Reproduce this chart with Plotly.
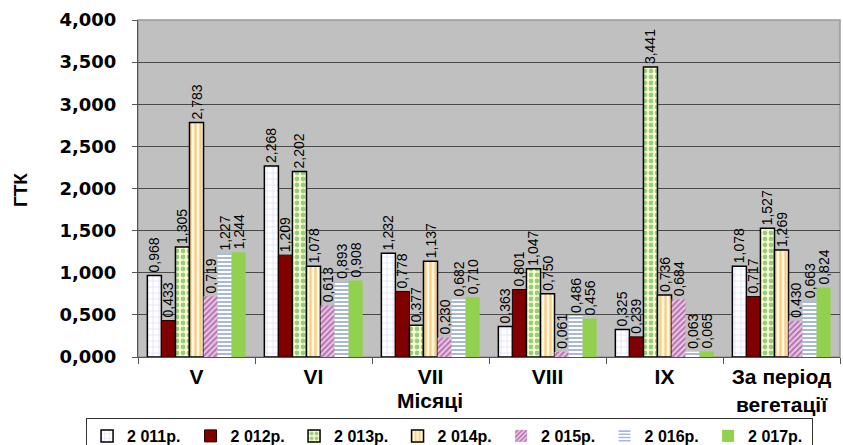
import plotly.graph_objects as go

categories = ["V", "VI", "VII", "VIII", "IX", "За період<br>вегетації"]
series_names = ["2 011р.", "2 012р.", "2 013р.", "2 014р.", "2 015р.", "2 016р.", "2 017р."]
v2011 = [0.968, 2.268, 1.232, 0.363, 0.325, 1.078]
v2012 = [0.433, 1.209, 0.778, 0.801, 0.239, 0.717]
v2013 = [1.305, 2.202, 0.377, 1.047, 3.441, 1.527]
v2014 = [2.783, 1.078, 1.137, 0.750, 0.736, 1.269]
v2015 = [0.719, 0.613, 0.230, 0.061, 0.684, 0.430]
v2016 = [1.227, 0.893, 0.682, 0.486, 0.063, 0.663]
v2017 = [1.244, 0.908, 0.710, 0.456, 0.065, 0.824]
y_ticks = [0, 0.5, 1, 1.5, 2, 2.5, 3, 3.5, 4]

all_values = [v2011, v2012, v2013, v2014, v2015, v2016, v2017]

styles = [
    dict(color="white", pattern=dict(shape="+", fgcolor="#9a9aff", bgcolor="white", size=6, solidity=0.15), line=dict(color="black", width=1.5)),
    dict(color="#800000", line=dict(color="#200000", width=1)),
    dict(color="#ffffcc", pattern=dict(shape=".", fgcolor="#2e9a3e", bgcolor="#ffffcc", size=6, solidity=0.5), line=dict(color="black", width=1.5)),
    dict(color="#ffffcc", pattern=dict(shape="|", fgcolor="#f5a020", bgcolor="#fff8e0", size=5, solidity=0.45), line=dict(color="black", width=1.5)),
    dict(color="white", pattern=dict(shape="/", fgcolor="#7a1f6a", bgcolor="#ecc8ec", size=4, solidity=0.5), line=dict(width=0)),
    dict(color="white", pattern=dict(shape="-", fgcolor="#4f74b8", bgcolor="white", size=4, solidity=0.5), line=dict(width=0)),
    dict(color="#92d050", line=dict(width=0)),
]

def fmt(v):
    return f"{v:.3f}".replace(".", ",")

fig = go.Figure()
for name, vals, st in zip(series_names, all_values, styles):
    fig.add_trace(go.Bar(
        x=categories, y=vals, name=name,
        marker=st,
        text=[fmt(v) for v in vals],
        textposition="outside",
        textangle=-90,
        constraintext="none",
        cliponaxis=False,
        textfont=dict(family="Liberation Sans, Arial", size=14, color="black"),
    ))

fig.update_layout(
    width=843, height=445,
    margin=dict(l=138, r=3, t=20, b=88, autoexpand=False),
    paper_bgcolor="white",
    plot_bgcolor="#c0c0c0",
    barmode="group",
    bargap=0.16,
    bargroupgap=0,
    separators=", ",
    font=dict(family="Liberation Sans, Arial", color="black"),
    showlegend=True,
    legend=dict(
        orientation="h", x=-0.074, xanchor="left", y=-0.181, yanchor="top",
        bordercolor="#333333", borderwidth=1, bgcolor="rgba(255,255,255,0)",
        font=dict(family="Liberation Sans, Arial", size=16, color="black", weight="bold"),
        itemwidth=30, tracegroupgap=0, entrywidth=58.5,
    ),
)

fig.update_yaxes(
    range=[0, 4], tickvals=y_ticks, tickformat=".3f",
    showgrid=True, gridcolor="#4a4a4a", gridwidth=1,
    showline=True, linecolor="#555555", linewidth=1,
    ticks="outside", ticklen=5, tickcolor="#555555", ticklabelstandoff=12,
    tickfont=dict(family="DejaVu Sans", size=18, color="black", weight="bold"),
    zeroline=False, automargin=False,
)
fig.update_xaxes(
    showline=True, linecolor="#555555", linewidth=1,
    ticks="outside", ticklen=6, tickcolor="#555555", tickson="boundaries",
    ticklabelstandoff=1,
    tickfont=dict(family="Liberation Sans, Arial", size=21, color="black", weight="bold"),
    automargin=False,
)

fig.add_annotation(
    text="ГТК", xref="paper", yref="paper", x=-0.168, y=0.4955,
    xanchor="center", yanchor="middle", textangle=-90, showarrow=False,
    font=dict(family="Liberation Sans, Arial", size=19, color="black", weight="bold"),
)
fig.add_annotation(
    text="Місяці", xref="paper", yref="paper", x=0.416, y=-0.088,
    xanchor="center", yanchor="top", showarrow=False,
    font=dict(family="Liberation Sans, Arial", size=21, color="black", weight="bold"),
)
# frame of the plot area (top/right borders)
fig.add_shape(type="rect", xref="paper", yref="paper", x0=0, x1=1, y0=0, y1=1,
              line=dict(color="#999999", width=1.5), layer="below")

fig.write_html(
    "out.html",
    config={"displayModeBar": False},
    post_script="document.body.style.margin='0px';document.body.style.overflow='hidden';",
)
